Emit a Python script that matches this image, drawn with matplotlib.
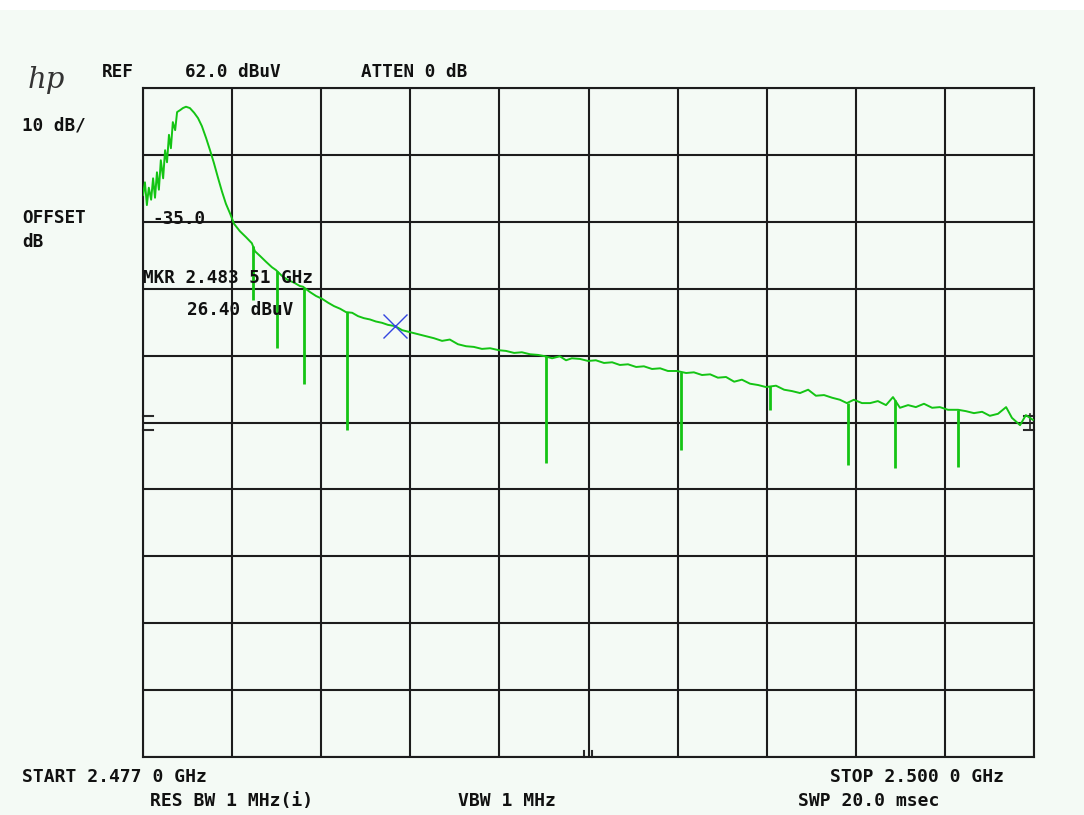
import numpy as np
import matplotlib
matplotlib.use("Agg")
import matplotlib.pyplot as plt
from matplotlib.patches import Rectangle

# analyzer settings
ref_level = 62.0      # dBuV, top graticule line
db_per_div = 10.0
start_ghz = 2.477
stop_ghz = 2.500
offset_db = -35.0

# sweep trace (GHz, dBuV)
freq_ghz = [
    2.47700, 2.47705, 2.47710, 2.47715, 2.47721, 2.47726, 2.47731, 2.47736, 2.47741, 2.47746,
    2.47752, 2.47757, 2.47762, 2.47767, 2.47772, 2.47777, 2.47783, 2.47788, 2.47796, 2.47803,
    2.47811, 2.47821, 2.47832, 2.47842, 2.47852, 2.47863, 2.47873, 2.47883, 2.47894, 2.47904,
    2.47914, 2.47925, 2.47935, 2.47950, 2.47966, 2.47981, 2.47989, 2.48002, 2.48018, 2.48033,
    2.48043, 2.48059, 2.48074, 2.48090, 2.48105, 2.48113, 2.48131, 2.48147, 2.48162, 2.48178,
    2.48193, 2.48209, 2.48224, 2.48240, 2.48255, 2.48270, 2.48286, 2.48301, 2.48317, 2.48332,
    2.48351, 2.48369, 2.48389, 2.48410, 2.48431, 2.48451, 2.48472, 2.48492, 2.48513, 2.48534,
    2.48554, 2.48575, 2.48596, 2.48619, 2.48637, 2.48658, 2.48678, 2.48699, 2.48720, 2.48738,
    2.48756, 2.48776, 2.48792, 2.48807, 2.48828, 2.48849, 2.48869, 2.48890, 2.48911, 2.48931,
    2.48952, 2.48973, 2.48993, 2.49014, 2.49035, 2.49055, 2.49078, 2.49102, 2.49122, 2.49143,
    2.49164, 2.49184, 2.49205, 2.49226, 2.49246, 2.49267, 2.49288, 2.49308, 2.49334, 2.49355,
    2.49375, 2.49396, 2.49417, 2.49437, 2.49458, 2.49479, 2.49499, 2.49517, 2.49535, 2.49556,
    2.49577, 2.49597, 2.49618, 2.49636, 2.49654, 2.49675, 2.49695, 2.49716, 2.49737, 2.49757,
    2.49778, 2.49804, 2.49824, 2.49845, 2.49866, 2.49886, 2.49907, 2.49928, 2.49943, 2.49964,
    2.49979, 2.49997,
]
level_dbuv = [
    46.0, 47.9, 44.5, 47.1, 45.3, 48.5, 45.6, 49.4, 46.8, 51.2,
    48.5, 52.7, 50.9, 55.0, 53.0, 56.9, 55.7, 58.4, 58.7, 59.0,
    59.2, 59.0, 58.3, 57.5, 56.3, 54.5, 52.7, 50.8, 48.5, 46.5,
    44.7, 43.2, 41.7, 40.6, 39.7, 38.8, 37.6, 36.9, 36.0, 35.2,
    34.8, 33.9, 33.3, 32.9, 32.4, 32.3, 31.5, 30.9, 30.5, 29.9,
    29.4, 29.0, 28.5, 28.4, 27.9, 27.6, 27.4, 27.1, 26.9, 26.6,
    26.4, 25.8, 25.5, 25.2, 24.9, 24.6, 24.2, 24.4, 23.7, 23.4,
    23.3, 23.0, 23.1, 22.8, 22.7, 22.4, 22.5, 22.2, 22.1, 21.9,
    21.6, 21.9, 21.3, 21.6, 21.5, 21.2, 21.3, 20.9, 21.0, 20.6,
    20.7, 20.3, 20.4, 20.0, 20.1, 19.7, 19.7, 19.4, 19.5, 19.1,
    19.2, 18.7, 18.8, 18.1, 18.4, 17.8, 17.6, 17.3, 17.5, 16.9,
    16.7, 16.4, 16.9, 16.0, 16.1, 15.7, 15.4, 14.9, 15.4, 14.9,
    14.9, 15.2, 14.6, 15.8, 14.2, 14.6, 14.3, 14.8, 14.2, 14.3,
    13.9, 13.9, 13.7, 13.4, 13.6, 13.0, 13.3, 14.3, 12.7, 11.6,
    13.1, 12.4,
]

# narrow dropouts in the trace
dip_freq = [2.47984, 2.48046, 2.48116, 2.48227, 2.48740,
            2.49089, 2.49319, 2.49520, 2.49641, 2.49804]
dip_floor = [30.3, 23.1, 17.8, 10.9, 5.9, 7.9, 13.9, 5.6, 5.2, 5.3]

# marker
mkr_freq = 2.48351
mkr_level = 26.40

W, H = 1084, 815
fig = plt.figure(figsize=(W / 100, H / 100), dpi=100)
fig.patch.set_facecolor("#f4faf5")
fig.patches.append(Rectangle((0, 1 - 10 / H), 1, 10 / H, transform=fig.transFigure,
                             facecolor="white", edgecolor="none", zorder=0))

ax = fig.add_axes([143 / W, 1 - 757 / H, 891 / W, 669 / H])
ax.set_facecolor("#f4faf5")
ax.set_xlim(start_ghz, stop_ghz)
ax.set_ylim(ref_level - 10 * db_per_div, ref_level)
ax.set_xticks(np.linspace(start_ghz, stop_ghz, 11))
ax.set_yticks(np.arange(ref_level - 10 * db_per_div, ref_level + 1, db_per_div))
ax.tick_params(length=0, labelbottom=False, labelleft=False)
ax.grid(True, color="#1c1c1c", lw=1.5)
for sp in ax.spines.values():
    sp.set_color("#1c1c1c")
    sp.set_linewidth(1.5)

grn = "#14c414"
ax.plot(freq_ghz, level_dbuv, color=grn, lw=1.4, zorder=3)
top = np.interp(dip_freq, freq_ghz, level_dbuv)
ax.vlines(dip_freq, dip_floor, top, color=grn, lw=2, zorder=3)
ax.plot(mkr_freq, mkr_level, marker="x", ms=17, mew=1.0, color="#3345e0", zorder=4)

# reference-level indicators on the graticule edges
dk = "#2a2a2a"
for yy in (0.5097, 0.4888):
    ax.plot([0, 0.011], [yy, yy], transform=ax.transAxes, color=dk, lw=1.5, clip_on=False)
    ax.plot([0.989, 1.0], [yy, yy], transform=ax.transAxes, color=dk, lw=1.5, clip_on=False)
ax.plot([0.9955, 0.9955], [0.4888, 0.512], transform=ax.transAxes, color=dk, lw=1.2, clip_on=False)
for xx in (0.495, 0.504):
    ax.plot([xx, xx], [0, 0.009], transform=ax.transAxes, color=dk, lw=1.5, clip_on=False)

mono = dict(family="DejaVu Sans Mono", fontweight="bold", color="#111111", va="center")


def label(x, y, s, size=12.7, **kw):
    fig.text(x / W, 1 - y / H, s, fontsize=size, **{**mono, **kw})


fig.text(28 / W, 1 - 80 / H, "hp", family="DejaVu Serif", style="italic",
         fontsize=21, color="#333333", va="center", fontweight="light")
label(102, 72, "REF")
label(185, 72, f"{ref_level:.1f} dBuV")
label(361, 72, "ATTEN 0 dB")
label(22, 125, f"{db_per_div:.0f} dB/")
label(22, 218, "OFFSET")
label(22, 242, "dB")
label(152, 219, f"{offset_db:.1f}")
mk = f"{mkr_freq:.5f}"
label(143, 278, f"MKR {mk[:5]} {mk[5:]} GHz")
label(187, 310, f"{mkr_level:.2f} dBuV")

label(22, 777, f"START {start_ghz:.3f} 0 GHz", size=13)
label(830, 777, f"STOP {stop_ghz:.3f} 0 GHz", size=13)
label(150, 801, "RES BW 1 MHz(i)", size=13)
label(458, 801, "VBW 1 MHz", size=13)
label(798, 801, "SWP 20.0 msec", size=13)

fig.savefig("out.png", dpi=100, facecolor=fig.get_facecolor())
